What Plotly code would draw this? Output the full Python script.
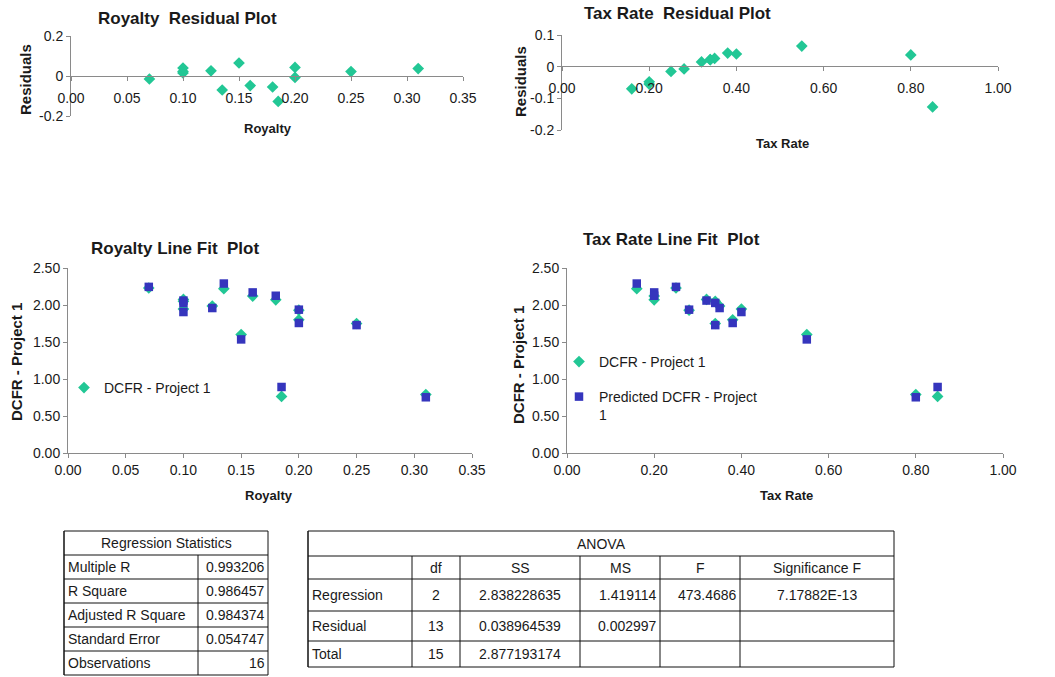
import plotly.graph_objects as go

# ---------------- data ----------------
royalty = [0.07, 0.10, 0.10, 0.10, 0.125, 0.135, 0.15, 0.16, 0.18, 0.185, 0.20, 0.20, 0.25, 0.31]
tax_rate = [0.25, 0.32, 0.34, 0.40, 0.35, 0.16, 0.55, 0.20, 0.20, 0.85, 0.28, 0.38, 0.34, 0.80]
dcfr = [2.23, 2.075, 2.05, 1.945, 1.985, 2.22, 1.60, 2.12, 2.07, 0.765, 1.93, 1.80, 1.75, 0.79]
predicted = [2.245, 2.06, 2.028, 1.905, 1.959, 2.29, 1.535, 2.17, 2.125, 0.892, 1.937, 1.757, 1.728, 0.753]
residuals = [-0.015, 0.015, 0.022, 0.040, 0.026, -0.070, 0.065, -0.048, -0.055, -0.127, -0.007, 0.043, 0.022, 0.037]

royalty_ticks = [0.00, 0.05, 0.10, 0.15, 0.20, 0.25, 0.30, 0.35]
tax_ticks = [0.00, 0.20, 0.40, 0.60, 0.80, 1.00]
dcfr_ticks = [0.00, 0.50, 1.00, 1.50, 2.00, 2.50]
roy_res_ticks = [-0.2, 0, 0.2]
roy_res_labels = ["-0.2", "0", "0.2"]
tax_res_ticks = [-0.2, -0.1, 0, 0.1]
tax_res_labels = ["-0.2", "-0.1", "0", "0.1"]

stats_title = "Regression Statistics"
stats_labels = ["Multiple R", "R Square", "Adjusted R Square", "Standard Error", "Observations"]
stats_values = ["0.993206", "0.986457", "0.984374", "0.054747", "16"]

anova_title = "ANOVA"
anova_headers = ["", "df", "SS", "MS", "F", "Significance F"]
anova_rows = ["Regression", "Residual", "Total"]
anova_df = ["2", "13", "15"]
anova_ss = ["2.838228635", "0.038964539", "2.877193174"]
anova_ms = ["1.419114", "0.002997", ""]
anova_f = ["473.4686", "", ""]
anova_sigf = ["7.17882E-13", "", ""]

# ---------------- styling ----------------
W, H = 1055, 677
FONT = "Arial, Liberation Sans, sans-serif"
TEAL = "#22C795"
BLUE = "#3535BD"
AX = "#8A8A8A"
TXT = "#1a1a1a"


def px(x):
    return x / W


def py(y):
    return 1 - y / H


fig = go.Figure()

# residual plots
fig.add_trace(go.Scatter(x=royalty, y=residuals, mode="markers", xaxis="x", yaxis="y",
                         marker=dict(symbol="diamond", size=9, color=TEAL),
                         name="Residuals", showlegend=False))
fig.add_trace(go.Scatter(x=tax_rate, y=residuals, mode="markers", xaxis="x2", yaxis="y2",
                         marker=dict(symbol="diamond", size=9, color=TEAL),
                         name="Residuals", showlegend=False))
# line fit plots
fig.add_trace(go.Scatter(x=royalty, y=dcfr, mode="markers", xaxis="x3", yaxis="y3",
                         marker=dict(symbol="diamond", size=9, color=TEAL),
                         name="DCFR - Project 1", legend="legend", showlegend=True))
fig.add_trace(go.Scatter(x=royalty, y=predicted, mode="markers", xaxis="x3", yaxis="y3",
                         marker=dict(symbol="square", size=8.5, color=BLUE),
                         name="Predicted DCFR - Project 1", showlegend=False))
fig.add_trace(go.Scatter(x=tax_rate, y=dcfr, mode="markers", xaxis="x4", yaxis="y4",
                         marker=dict(symbol="diamond", size=9, color=TEAL),
                         name="DCFR - Project 1", legend="legend2", showlegend=True))
fig.add_trace(go.Scatter(x=tax_rate, y=predicted, mode="markers", xaxis="x4", yaxis="y4",
                         marker=dict(symbol="square", size=8.5, color=BLUE),
                         name="Predicted DCFR - Project<br>1", legend="legend3", showlegend=True))

base_axis = dict(showline=True, linecolor=AX, linewidth=1, ticks="outside", ticklen=4,
                 tickcolor=AX, tickwidth=1, showgrid=False, zeroline=False, automargin=False,
                 tickfont=dict(family=FONT, size=14, color=TXT))

fig.update_layout(
    template="none",
    width=W, height=H, margin=dict(l=0, r=0, t=0, b=0, pad=0, autoexpand=False),
    paper_bgcolor="white", plot_bgcolor="white",
    font=dict(family=FONT, size=14, color=TXT),
    xaxis=dict(base_axis, domain=[px(71), px(463)], range=[0, 0.35], tickmode="array",
               tickvals=royalty_ticks, tickformat=".2f", anchor="free", position=py(76),
               ticklabelstandoff=5),
    yaxis=dict(base_axis, domain=[py(116), py(36)], range=[-0.2, 0.2], tickmode="array",
               tickvals=roy_res_ticks, ticktext=roy_res_labels, anchor="x"),
    xaxis2=dict(base_axis, domain=[px(562), px(998)], range=[0, 1.0], tickmode="array",
                tickvals=tax_ticks, tickformat=".2f", anchor="free", position=py(66),
                ticklabelstandoff=5),
    yaxis2=dict(base_axis, domain=[py(130), py(35)], range=[-0.2, 0.1], tickmode="array",
                tickvals=tax_res_ticks, ticktext=tax_res_labels, anchor="x2"),
    xaxis3=dict(base_axis, domain=[px(68), px(472)], range=[0, 0.35], tickmode="array",
                tickvals=royalty_ticks, tickformat=".2f", anchor="y3"),
    yaxis3=dict(base_axis, domain=[py(453), py(268)], range=[0, 2.5], tickmode="array",
                tickvals=dcfr_ticks, tickformat=".2f", anchor="x3"),
    xaxis4=dict(base_axis, domain=[px(567), px(1003)], range=[0, 1.0], tickmode="array",
                tickvals=tax_ticks, tickformat=".2f", anchor="y4"),
    yaxis4=dict(base_axis, domain=[py(453), py(268)], range=[0, 2.5], tickmode="array",
                tickvals=dcfr_ticks, tickformat=".2f", anchor="x4"),
    legend=dict(x=px(64), y=py(388), xanchor="left", yanchor="middle",
                bgcolor="rgba(0,0,0,0)", font=dict(family=FONT, size=14, color=TXT)),
    legend2=dict(x=px(559), y=py(362), xanchor="left", yanchor="middle",
                 bgcolor="rgba(0,0,0,0)", font=dict(family=FONT, size=14, color=TXT)),
    legend3=dict(x=px(559), y=py(381), xanchor="left", yanchor="top", valign="top",
                 bgcolor="rgba(0,0,0,0)", font=dict(family=FONT, size=14, color=TXT)),
)

annotations = []


def text(x, y, s, size=14, bold=False, angle=0, xanchor="center", yanchor="middle"):
    annotations.append(dict(
        x=px(x), y=py(y), xref="paper", yref="paper", text=f"<b>{s}</b>" if bold else s,
        showarrow=False, xanchor=xanchor, yanchor=yanchor, textangle=angle,
        font=dict(family=FONT, size=size, color=TXT)))


# chart titles
text(187, 19, "Royalty\u00a0 Residual Plot", 17, True)
text(677, 13, "Tax Rate\u00a0 Residual Plot", 17, True)
text(175, 249, "Royalty Line Fit\u00a0 Plot", 17, True)
text(671, 240, "Tax Rate Line Fit\u00a0 Plot", 17, True)
# axis titles
text(268, 128, "Royalty", 13, True)
text(782, 143, "Tax Rate", 13, True)
text(25, 80, "Residuals", 15, True, angle=-90)
text(520, 82, "Residuals", 15, True, angle=-90)
text(269, 495, "Royalty", 13, True)
text(786, 495, "Tax Rate", 13, True)
text(16, 362, "DCFR - Project 1", 15, True, angle=-90)
text(518, 365, "DCFR - Project 1", 15, True, angle=-90)

shapes = []


def line(x0, y0, x1, y1, w=1):
    shapes.append(dict(type="line", xref="paper", yref="paper", x0=px(x0), y0=py(y0),
                       x1=px(x1), y1=py(y1), line=dict(color="#111111", width=w)))


# ---------------- Regression statistics table ----------------
st_cols = [64, 198, 268]
st_rows = [531, 555, 579, 603, 627, 651, 675]
line(st_cols[0], st_rows[0], st_cols[-1], st_rows[0])
for r in st_rows[1:]:
    line(st_cols[0], r, st_cols[-1], r)
line(st_cols[0], st_rows[0], st_cols[0], st_rows[-1], 1.5)
line(st_cols[-1], st_rows[0], st_cols[-1], st_rows[-1])
line(st_cols[1], st_rows[1], st_cols[1], st_rows[-1])
text((st_cols[0] + st_cols[-1]) / 2, (st_rows[0] + st_rows[1]) / 2, stats_title)
for i, (lab, val) in enumerate(zip(stats_labels, stats_values)):
    yc = (st_rows[i + 1] + st_rows[i + 2]) / 2
    text(st_cols[0] + 2, yc, lab, xanchor="left")
    text(st_cols[2] - 1, yc, val, xanchor="right")

# ---------------- ANOVA table ----------------
an_cols = [308, 412, 460, 580, 660, 740, 894]
an_rows = [531, 556, 579, 611, 641, 667]
for r in an_rows:
    line(an_cols[0], r, an_cols[-1], r)
line(an_cols[0], an_rows[0], an_cols[0], an_rows[-1], 1.5)
line(an_cols[-1], an_rows[0], an_cols[-1], an_rows[-1])
for c in an_cols[1:-1]:
    line(c, an_rows[1], c, an_rows[-1])
text((an_cols[0] + an_cols[-1]) / 2, (an_rows[0] + an_rows[1]) / 2, anova_title)
for j, h in enumerate(anova_headers):
    if h:
        text((an_cols[j] + an_cols[j + 1]) / 2, (an_rows[1] + an_rows[2]) / 2, h)
aligns = ["left", "center", "center", "right", "right", "center"]
columns = [anova_rows, anova_df, anova_ss, anova_ms, anova_f, anova_sigf]
for i in range(len(anova_rows)):
    yc = (an_rows[i + 2] + an_rows[i + 3]) / 2
    for j, col in enumerate(columns):
        s = col[i]
        if not s:
            continue
        if aligns[j] == "left":
            text(an_cols[j] + 2, yc, s, xanchor="left")
        elif aligns[j] == "right":
            text(an_cols[j + 1] - 1, yc, s, xanchor="right")
        else:
            text((an_cols[j] + an_cols[j + 1]) / 2, yc, s)

fig.update_layout(annotations=annotations, shapes=shapes)
fig.write_html("out.html", config={"displayModeBar": False},
               post_script="document.body.style.margin='0';document.body.style.overflow='hidden';")
